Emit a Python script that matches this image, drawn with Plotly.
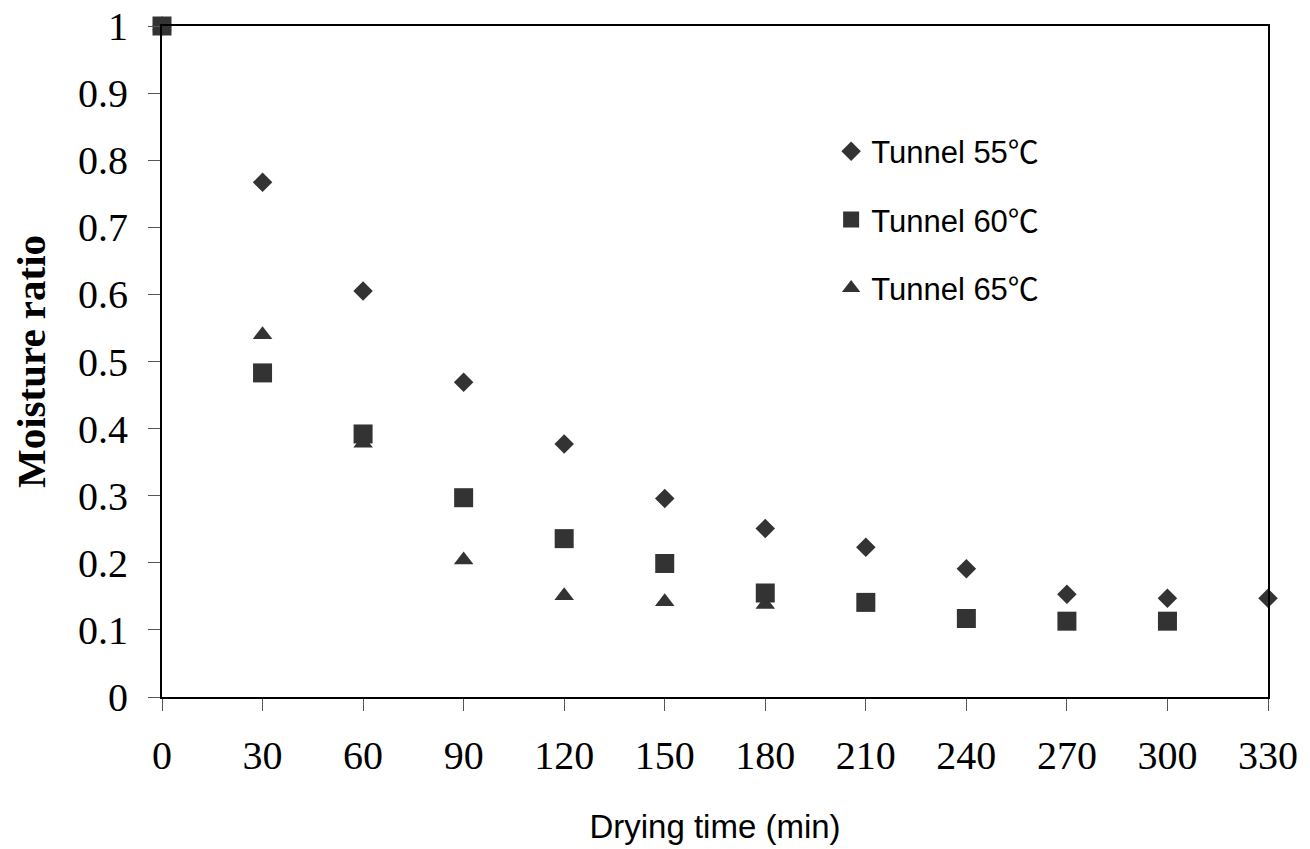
import plotly.graph_objects as go

time_55 = [0, 30, 60, 90, 120, 150, 180, 210, 240, 270, 300, 330]
mr_55 = [1.0, 0.767, 0.605, 0.469, 0.377, 0.296, 0.251, 0.223, 0.191, 0.153, 0.147, 0.147]

time_60 = [0, 30, 60, 90, 120, 150, 180, 210, 240, 270, 300]
mr_60 = [1.0, 0.483, 0.392, 0.297, 0.236, 0.199, 0.155, 0.141, 0.117, 0.113, 0.113]

time_65 = [0, 30, 60, 90, 120, 150, 180]
mr_65 = [1.0, 0.54, 0.378, 0.204, 0.151, 0.142, 0.138]

x_ticks = [0, 30, 60, 90, 120, 150, 180, 210, 240, 270, 300, 330]
y_ticks = [0, 0.1, 0.2, 0.3, 0.4, 0.5, 0.6, 0.7, 0.8, 0.9, 1]
y_tick_text = ["0", "0.1", "0.2", "0.3", "0.4", "0.5", "0.6", "0.7", "0.8", "0.9", "1"]

names = ["Tunnel 55\u2103", "Tunnel 60\u2103", "Tunnel 65\u2103"]
color = "#333333"

fig = go.Figure()
fig.add_trace(go.Scatter(x=time_65, y=mr_65, mode="markers", name=names[2],
                         marker=dict(symbol="triangle-up", size=17, color=color),
                         legendgroup="c", legendrank=3, cliponaxis=False))
fig.add_trace(go.Scatter(x=time_55, y=mr_55, mode="markers", name=names[0],
                         marker=dict(symbol="diamond", size=15, color=color),
                         legendgroup="a", legendrank=1, cliponaxis=False))
fig.add_trace(go.Scatter(x=time_60, y=mr_60, mode="markers", name=names[1],
                         marker=dict(symbol="square", size=19, color=color),
                         legendgroup="b", legendrank=2, cliponaxis=False))

fig.update_layout(
    width=1302, height=841,
    margin=dict(l=154, r=42, t=18, b=152),
    paper_bgcolor="white", plot_bgcolor="white",
    showlegend=True,
    legend=dict(x=0.605, y=0.853, xanchor="left", yanchor="top",
                font=dict(family="Liberation Sans, 'Noto Sans CJK SC', Arial", size=31, color="black"),
                tracegroupgap=25, bgcolor="rgba(0,0,0,0)", itemwidth=30),
    xaxis=dict(range=[0, 330], tickvals=x_ticks, ticktext=[str(v) for v in x_ticks],
               ticks="outside", ticklen=12, tickcolor="#555", tickwidth=1,
               ticklabelstandoff=10, automargin=False, ticklabeloverflow="allow",
               showline=True, linecolor="black", linewidth=2, mirror=True,
               showgrid=False, zeroline=False,
               tickfont=dict(family="Liberation Serif, Times New Roman", size=40, color="black"),
               title=dict(text="Drying time (min)", standoff=38,
                          font=dict(family="Liberation Sans, Arial", size=33, color="black"))),
    yaxis=dict(range=[0, 1], tickvals=y_ticks, ticktext=y_tick_text,
               ticks="outside", ticklen=12, tickcolor="#555", tickwidth=1,
               ticklabelstandoff=12, automargin=False, ticklabeloverflow="allow",
               showline=True, linecolor="black", linewidth=2, mirror=True,
               showgrid=False, zeroline=False,
               tickfont=dict(family="Liberation Serif, Times New Roman", size=40, color="black"),
               title=dict(text="<b>Moisture ratio</b>", standoff=25,
                          font=dict(family="Liberation Serif, Times New Roman", size=41, color="black"))),
)

fig.write_html("out.html")
